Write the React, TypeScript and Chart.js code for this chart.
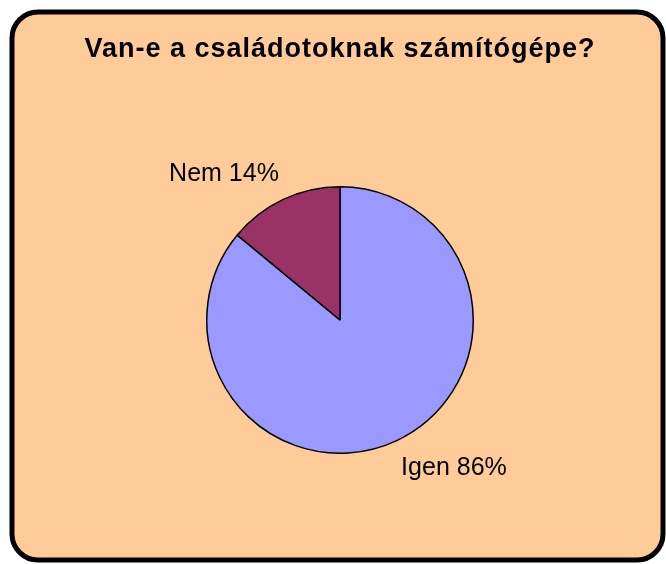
import React, { useEffect, useRef } from "react";
import { Chart, registerables } from "chart.js";

Chart.register(...registerables);

const TITLE = "Van-e a családotoknak számítógépe?";
const categories = ["Igen", "Nem"];
const values = [86, 14];
const colors = ["#9999FF", "#993366"];

const framePlugin = {
  id: "frame",
  beforeDraw(chart: any) {
    const ctx = chart.ctx;
    ctx.save();
    ctx.fillStyle = "#FFFFFF";
    ctx.fillRect(0, 0, chart.width, chart.height);
    const x = 12, y = 12, w = 651, h = 548, r = 26;
    ctx.beginPath();
    ctx.moveTo(x + r, y);
    ctx.lineTo(x + w - r, y);
    ctx.arcTo(x + w, y, x + w, y + r, r);
    ctx.lineTo(x + w, y + h - r);
    ctx.arcTo(x + w, y + h, x + w - r, y + h, r);
    ctx.lineTo(x + r, y + h);
    ctx.arcTo(x, y + h, x, y + h - r, r);
    ctx.lineTo(x, y + r);
    ctx.arcTo(x, y, x + r, y, r);
    ctx.closePath();
    ctx.fillStyle = "#FFCC99";
    ctx.fill();
    ctx.lineWidth = 5;
    ctx.strokeStyle = "#000000";
    ctx.stroke();
    // title
    ctx.fillStyle = "#000000";
    ctx.font = "bold 27px 'Liberation Sans', Arial, sans-serif";
    (ctx as any).letterSpacing = "1px";
    ctx.textAlign = "center";
    ctx.textBaseline = "alphabetic";
    ctx.fillText(TITLE, 340, 57);
    (ctx as any).letterSpacing = "0px";
    ctx.restore();
  },
  afterDraw(chart: any) {
    const ctx = chart.ctx;
    const meta = chart.getDatasetMeta(0);
    const total = values.reduce((a, b) => a + b, 0);
    ctx.save();
    ctx.font = "25px 'Liberation Sans', Arial, sans-serif";
    ctx.fillStyle = "#000000";
    meta.data.forEach((arc: any, i: number) => {
      const { x, y, startAngle, endAngle, outerRadius } = arc.getProps(
        ["x", "y", "startAngle", "endAngle", "outerRadius"],
        true
      );
      const mid = (startAngle + endAngle) / 2;
      const dx = Math.cos(mid);
      const dy = Math.sin(mid);
      const px = x + dx * (outerRadius + 15);
      const py = y + dy * (outerRadius + 15);
      const pct = Math.round((values[i] / total) * 100);
      const text = `${categories[i]} ${pct}%`;
      ctx.textAlign = dx < 0 ? "right" : "left";
      ctx.textBaseline = "alphabetic";
      const ty = dy < 0 ? py - 5 : py + 21;
      ctx.fillText(text, px + (dx < 0 ? 2 : -2), ty);
    });
    ctx.restore();
  },
};

export default function App() {
  const ref = useRef<HTMLCanvasElement>(null);
  useEffect(() => {
    if (!ref.current) return;
    const chart = new Chart(ref.current, {
      type: "pie",
      data: {
        labels: categories,
        datasets: [
          {
            data: values,
            backgroundColor: colors,
            borderColor: "#000000",
            borderWidth: 1.5,
          },
        ],
      },
      options: {
        responsive: false,
        animation: false,
        layout: { padding: { left: 206, right: 192, top: 186, bottom: 110 } },
        plugins: {
          legend: { display: false },
          title: { display: false },
          tooltip: { enabled: false },
        },
      },
      plugins: [framePlugin],
    });
    return () => chart.destroy();
  }, []);
  return (
    <div style={{ position: "absolute", left: 0, top: 0, width: 666, height: 564 }}>
      <canvas ref={ref} width={666} height={564} style={{ display: "block" }} />
    </div>
  );
}
